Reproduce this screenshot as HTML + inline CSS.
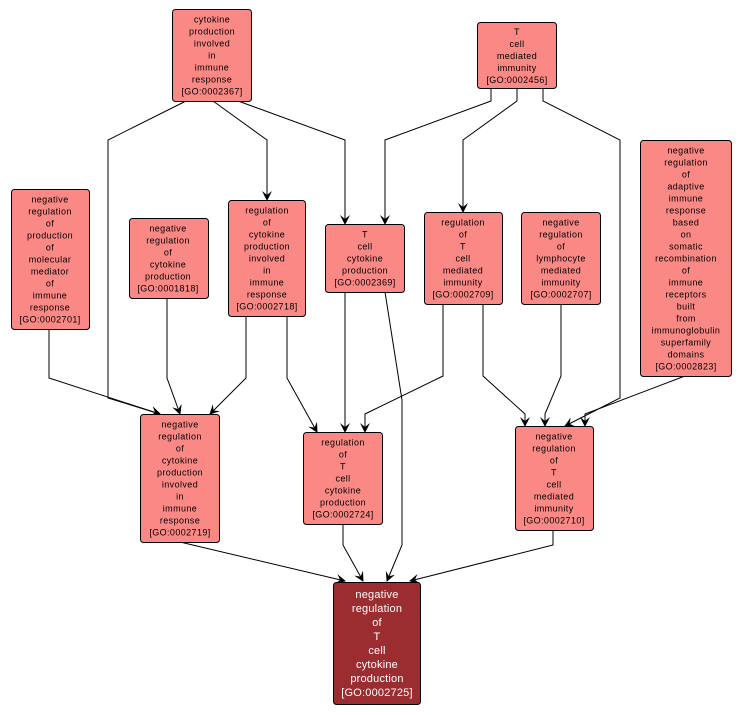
<!DOCTYPE html><html><head><style>body{margin:0;background:#fff}svg{display:block}text{font-family:"Liberation Sans",sans-serif;font-size:9px;letter-spacing:0.4px;fill:#000;text-anchor:middle}.w{fill:#fff;font-size:11px;letter-spacing:0.2px}</style></head><body>
<svg width="741" height="715" viewBox="0 0 741 715" xmlns="http://www.w3.org/2000/svg">
<defs><marker id="a" viewBox="0 0 10 10" refX="9" refY="5" markerWidth="10" markerHeight="10" orient="auto" markerUnits="userSpaceOnUse"><path d="M0,0 L10,5 L0,10 L4,5 Z" fill="#000"/></marker></defs>
<g fill="none" stroke="#000" stroke-width="1" marker-end="url(#a)">
<path d="M186,101 L108,140 L108,398 L160,414"/>
<path d="M213,101 L267,140 L267,200"/>
<path d="M238,101 L345,140 L345,224"/>
<path d="M491,88 L491,101 L385,140 L385,224"/>
<path d="M517,88 L517,101 L463,140 L463,212"/>
<path d="M543,88 L543,101 L620,140 L620,398 L565,426"/>
<path d="M49,329 L49,378 L160,414"/>
<path d="M167,298 L167,378 L180,414"/>
<path d="M246,316 L246,378 L210,414"/>
<path d="M287,316 L287,378 L317,432"/>
<path d="M345,292 L345,432"/>
<path d="M385,292 L402,400 L402,545 L387,581"/>
<path d="M443,304 L443,376 L365,414 L365,432"/>
<path d="M483,304 L483,376 L525,414 L525,426"/>
<path d="M561,304 L561,376 L545,414 L545,426"/>
<path d="M685,376 L585,414 L585,426"/>
<path d="M180,542 L345,581"/>
<path d="M343,524 L343,545 L363,581"/>
<path d="M553,530 L553,545 L410,581"/>
</g>
<g fill="#fa8986" stroke="#000" stroke-width="1">
<rect x="172.5" y="9.5" width="79" height="92" rx="3"/>
<rect x="477.5" y="22.5" width="79" height="66" rx="3"/>
<rect x="11.5" y="189.5" width="78" height="140" rx="3"/>
<rect x="129.5" y="218.5" width="79" height="80" rx="3"/>
<rect x="228.5" y="200.5" width="77" height="116" rx="3"/>
<rect x="325.5" y="224.5" width="79" height="68" rx="3"/>
<rect x="424.5" y="212.5" width="78" height="92" rx="3"/>
<rect x="521.5" y="212.5" width="79" height="92" rx="3"/>
<rect x="640.5" y="140.5" width="91" height="236" rx="3"/>
<rect x="140.5" y="414.5" width="79" height="128" rx="3"/>
<rect x="303.5" y="432.5" width="79" height="92" rx="3"/>
<rect x="515.5" y="426.5" width="78" height="104" rx="3"/>
<rect x="333.5" y="582.5" width="87" height="122" rx="3" fill="#9b2c2f"/>
</g>
<text x="212" y="22.5"><tspan x="212">cytokine</tspan><tspan x="212" dy="12">production</tspan><tspan x="212" dy="12">involved</tspan><tspan x="212" dy="12">in</tspan><tspan x="212" dy="12">immune</tspan><tspan x="212" dy="12">response</tspan><tspan x="212" dy="12">[GO:0002367]</tspan></text>
<text x="517" y="35"><tspan x="517">T</tspan><tspan x="517" dy="12">cell</tspan><tspan x="517" dy="12">mediated</tspan><tspan x="517" dy="12">immunity</tspan><tspan x="517" dy="12">[GO:0002456]</tspan></text>
<text x="50" y="202.5"><tspan x="50">negative</tspan><tspan x="50" dy="12">regulation</tspan><tspan x="50" dy="12">of</tspan><tspan x="50" dy="12">production</tspan><tspan x="50" dy="12">of</tspan><tspan x="50" dy="12">molecular</tspan><tspan x="50" dy="12">mediator</tspan><tspan x="50" dy="12">of</tspan><tspan x="50" dy="12">immune</tspan><tspan x="50" dy="12">response</tspan><tspan x="50" dy="12">[GO:0002701]</tspan></text>
<text x="168" y="231.5"><tspan x="168">negative</tspan><tspan x="168" dy="12">regulation</tspan><tspan x="168" dy="12">of</tspan><tspan x="168" dy="12">cytokine</tspan><tspan x="168" dy="12">production</tspan><tspan x="168" dy="12">[GO:0001818]</tspan></text>
<text x="267" y="213.5"><tspan x="267">regulation</tspan><tspan x="267" dy="12">of</tspan><tspan x="267" dy="12">cytokine</tspan><tspan x="267" dy="12">production</tspan><tspan x="267" dy="12">involved</tspan><tspan x="267" dy="12">in</tspan><tspan x="267" dy="12">immune</tspan><tspan x="267" dy="12">response</tspan><tspan x="267" dy="12">[GO:0002718]</tspan></text>
<text x="365" y="237.5"><tspan x="365">T</tspan><tspan x="365" dy="12">cell</tspan><tspan x="365" dy="12">cytokine</tspan><tspan x="365" dy="12">production</tspan><tspan x="365" dy="12">[GO:0002369]</tspan></text>
<text x="463" y="225.5"><tspan x="463">regulation</tspan><tspan x="463" dy="12">of</tspan><tspan x="463" dy="12">T</tspan><tspan x="463" dy="12">cell</tspan><tspan x="463" dy="12">mediated</tspan><tspan x="463" dy="12">immunity</tspan><tspan x="463" dy="12">[GO:0002709]</tspan></text>
<text x="561" y="225.5"><tspan x="561">negative</tspan><tspan x="561" dy="12">regulation</tspan><tspan x="561" dy="12">of</tspan><tspan x="561" dy="12">lymphocyte</tspan><tspan x="561" dy="12">mediated</tspan><tspan x="561" dy="12">immunity</tspan><tspan x="561" dy="12">[GO:0002707]</tspan></text>
<text x="686" y="153.5"><tspan x="686">negative</tspan><tspan x="686" dy="12">regulation</tspan><tspan x="686" dy="12">of</tspan><tspan x="686" dy="12">adaptive</tspan><tspan x="686" dy="12">immune</tspan><tspan x="686" dy="12">response</tspan><tspan x="686" dy="12">based</tspan><tspan x="686" dy="12">on</tspan><tspan x="686" dy="12">somatic</tspan><tspan x="686" dy="12">recombination</tspan><tspan x="686" dy="12">of</tspan><tspan x="686" dy="12">immune</tspan><tspan x="686" dy="12">receptors</tspan><tspan x="686" dy="12">built</tspan><tspan x="686" dy="12">from</tspan><tspan x="686" dy="12">immunoglobulin</tspan><tspan x="686" dy="12">superfamily</tspan><tspan x="686" dy="12">domains</tspan><tspan x="686" dy="12">[GO:0002823]</tspan></text>
<text x="180" y="427.5"><tspan x="180">negative</tspan><tspan x="180" dy="12">regulation</tspan><tspan x="180" dy="12">of</tspan><tspan x="180" dy="12">cytokine</tspan><tspan x="180" dy="12">production</tspan><tspan x="180" dy="12">involved</tspan><tspan x="180" dy="12">in</tspan><tspan x="180" dy="12">immune</tspan><tspan x="180" dy="12">response</tspan><tspan x="180" dy="12">[GO:0002719]</tspan></text>
<text x="343" y="445.5"><tspan x="343">regulation</tspan><tspan x="343" dy="12">of</tspan><tspan x="343" dy="12">T</tspan><tspan x="343" dy="12">cell</tspan><tspan x="343" dy="12">cytokine</tspan><tspan x="343" dy="12">production</tspan><tspan x="343" dy="12">[GO:0002724]</tspan></text>
<text x="554" y="439.5"><tspan x="554">negative</tspan><tspan x="554" dy="12">regulation</tspan><tspan x="554" dy="12">of</tspan><tspan x="554" dy="12">T</tspan><tspan x="554" dy="12">cell</tspan><tspan x="554" dy="12">mediated</tspan><tspan x="554" dy="12">immunity</tspan><tspan x="554" dy="12">[GO:0002710]</tspan></text>
<text class="w" x="377" y="598"><tspan x="377">negative</tspan><tspan x="377" dy="14">regulation</tspan><tspan x="377" dy="14">of</tspan><tspan x="377" dy="14">T</tspan><tspan x="377" dy="14">cell</tspan><tspan x="377" dy="14">cytokine</tspan><tspan x="377" dy="14">production</tspan><tspan x="377" dy="14">[GO:0002725]</tspan></text>
</svg></body></html>
